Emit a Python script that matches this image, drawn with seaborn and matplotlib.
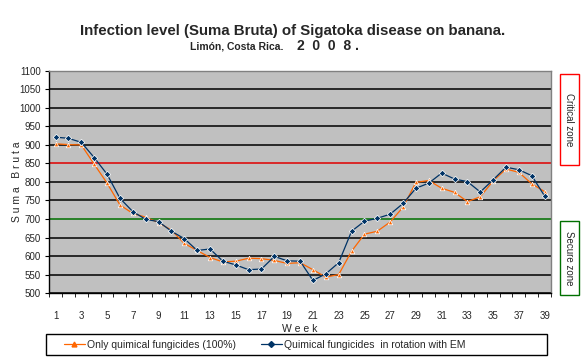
import matplotlib
matplotlib.use("Agg")
import matplotlib.pyplot as plt
import matplotlib.patches as mpatches
import seaborn as sns
import pandas as pd

weeks = list(range(1, 40))
only_chemical = [903, 901, 900, 848, 797, 738, 715, 705, 690, 670,
                 634, 615, 596, 584, 586, 594, 593, 588, 580, 582,
                 563, 543, 550, 613, 659, 667, 692, 732, 799, 804,
                 783, 772, 747, 760, 803, 835, 826, 795, 774]
rotation_em = [921, 918, 907, 866, 821, 756, 720, 699, 693, 667,
               647, 615, 619, 586, 576, 563, 565, 599, 587, 586,
               534, 552, 582, 667, 694, 702, 713, 742, 783, 797,
               824, 808, 801, 773, 806, 840, 833, 817, 762]
series_names = ["Only quimical fungicides (100%)",
                "Quimical fungicides  in rotation with EM"]

df = pd.DataFrame({
    "Week": weeks * 2,
    "Suma Bruta": only_chemical + rotation_em,
    "serie": [series_names[0]] * len(weeks) + [series_names[1]] * len(weeks),
})

sns.set_style("white")
plt.rcParams["font.family"] = ["Liberation Sans", "DejaVu Sans"]

fig = plt.figure(figsize=(5.85, 3.6), dpi=100)
ax = fig.add_axes([0.084, 0.186, 0.858, 0.617])
ax.set_facecolor("#C0C0C0")

# horizontal grid, with the two threshold lines
for v in range(500, 1101, 50):
    col = "black"
    if v == 850:
        col = "#E00000"
    elif v == 700:
        col = "#007000"
    ax.axhline(v, color=col, lw=1.1, zorder=1)

sns.lineplot(data=df, x="Week", y="Suma Bruta", hue="serie", style="serie",
             palette=["#FF6600", "#003366"], markers=["^", "D"], dashes=False,
             markersize=3.3, markeredgewidth=0.5, lw=0.9, ax=ax, zorder=3,
             legend=False)

ax.set_xlim(0.5, 39.5)
ax.set_ylim(500, 1100)
ax.set_yticks(range(500, 1101, 50))
ax.set_xticks(range(1, 40, 2))
ax.set_xticks([w + 0.5 for w in range(0, 40)], minor=True)
ax.tick_params(axis="x", which="major", labelsize=7, length=0, pad=13)
ax.tick_params(axis="x", which="minor", length=3, color="black", direction="out",
               bottom=True)
ax.tick_params(axis="y", which="major", labelsize=7, length=3, color="black",
               left=True, pad=3)
for s in ax.spines.values():
    s.set_color("#808080")
    s.set_linewidth(1)
ax.spines["bottom"].set_color("black")
ax.spines["left"].set_color("black")

ax.set_xlabel("W e e k", fontsize=7.5, labelpad=2)
ax.set_ylabel("S u m a   B r u t a", fontsize=7.5)
ax.yaxis.set_label_coords(-0.055, 0.5)

fig.text(0.5, 0.915, "Infection level (Suma Bruta) of Sigatoka disease on banana.",
         ha="center", va="center", fontsize=10.8, fontweight="bold")
fig.text(0.484, 0.872, "Limón, Costa Rica.", ha="right", va="center",
         fontsize=7.5, fontweight="bold")
fig.text(0.507, 0.872, "2  0  0  8 .", ha="left", va="center",
         fontsize=10, fontweight="bold")

# zone labels at the right side
fig.add_artist(mpatches.Rectangle((0.957, 0.542), 0.033, 0.252, transform=fig.transFigure,
                                  fill=False, edgecolor="#FF0000", lw=1))
fig.text(0.9735, 0.668, "Critical zone", rotation=270, ha="center", va="center",
         fontsize=7)
fig.add_artist(mpatches.Rectangle((0.957, 0.181), 0.033, 0.205, transform=fig.transFigure,
                                  fill=False, edgecolor="#007000", lw=1))
fig.text(0.9735, 0.283, "Secure zone", rotation=270, ha="center", va="center",
         fontsize=7)

# legend frame drawn separately so the entries keep Excel-like spacing
fig.add_artist(mpatches.Rectangle((0.079, 0.014), 0.856, 0.058, transform=fig.transFigure,
                                  fill=False, edgecolor="black", lw=1))
handles = [plt.Line2D([], [], color="#FF6600", marker="^", markersize=3.5, lw=0.9),
           plt.Line2D([], [], color="#003366", marker="D", markersize=3, lw=0.9)]
fig.legend(handles, series_names, loc="center left", ncol=2,
           bbox_to_anchor=(0.093, 0.043), fontsize=7.5, frameon=False,
           handlelength=2.0, handletextpad=0.2, columnspacing=2.4)

fig.savefig("out.png", dpi=100)
